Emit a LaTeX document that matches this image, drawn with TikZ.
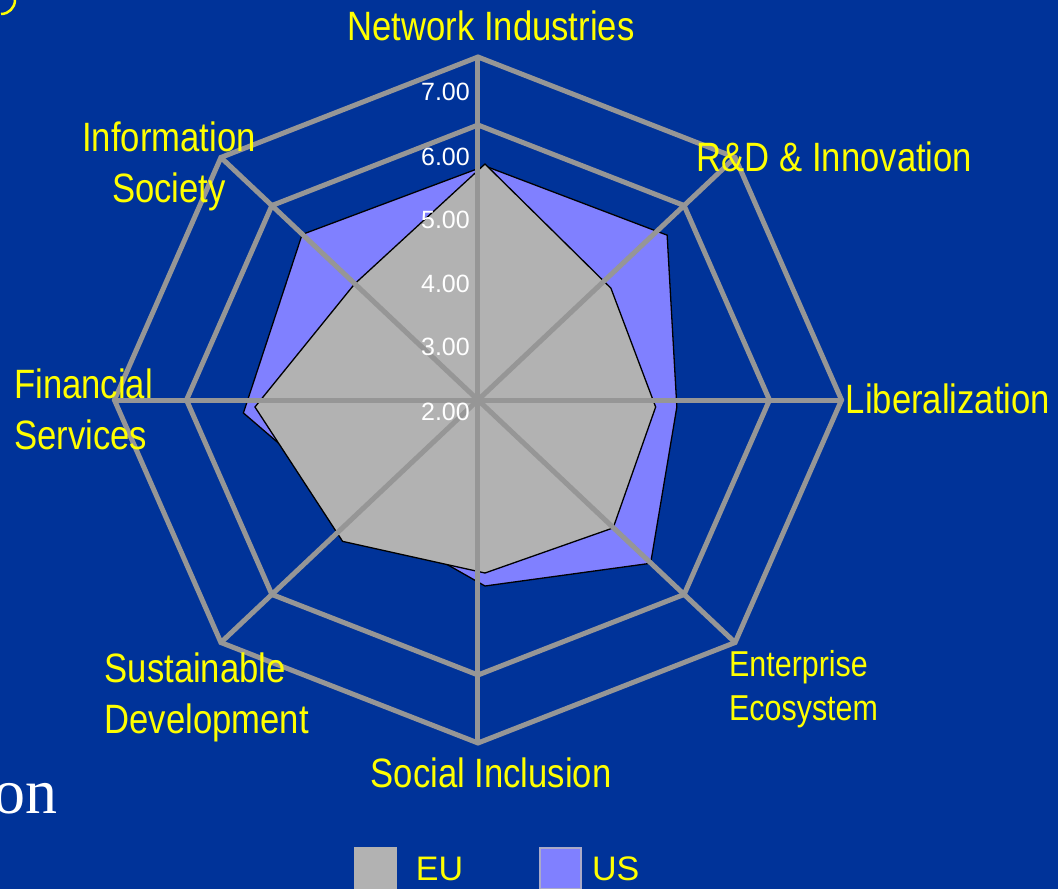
\documentclass[tikz,border=0pt]{standalone}
\usepackage{fontspec}
\usepackage{tikz}
\usetikzlibrary{positioning}
\newfontfamily\narrowfont{Liberation Sans}[FakeStretch=0.845]
\newfontfamily\plainfont{Liberation Sans}
\newfontfamily\slidefont{Liberation Serif}
\definecolor{rdBack}{RGB}{0,51,153}
\definecolor{rdGrid}{RGB}{150,150,150}
\definecolor{rdEU}{RGB}{178,178,178}
\definecolor{rdUS}{RGB}{128,128,255}
\definecolor{rdYellow}{RGB}{255,255,0}
\definecolor{rdEdge}{RGB}{170,170,200}
\tikzset{
    gridline/.style={rdGrid, line width=5pt},
    series/.style={draw=black, line width=1.3pt},
    axislabel/.style={font=\narrowfont\fontsize{41}{51}\selectfont, text=rdYellow, inner sep=0pt},
    smalllabel/.style={font=\narrowfont\fontsize{36}{44}\selectfont, text=rdYellow, inner sep=0pt},
    ticklabel/.style={font=\plainfont\fontsize{25}{25}\selectfont, text=white, inner sep=0pt, anchor=east},
    swatch/.style={minimum width=43pt, minimum height=43pt, inner sep=0pt},
    keytext/.style={font=\plainfont\fontsize{34}{34}\selectfont, text=rdYellow, inner sep=0pt}
}
\begin{document}
\begin{tikzpicture}[x=1pt, y=1pt]
  % slide background
  \fill[rdBack] (-478,-489) rectangle (580,400);
  \useasboundingbox (-478,-489) rectangle (580,400);

  % series, sitting slightly off the grid centre as on the slide
  \begin{scope}[shift={(7,-7)}, xscale=1.06]
    \filldraw[series, fill=rdUS] (90:241) -- (45:243) -- (0:181) -- (-45:221) -- (-90:179) -- (-135:158) -- (181.5:228) -- (135:244) -- cycle;
    \filldraw[series, fill=rdEU] (90:243) -- (45:168) -- (0:161) -- (-45:171) -- (-90:166) -- (-135:190) -- (180:217) -- (135:174) -- cycle;
  \end{scope}

  % grid: two rings and eight spokes
  \begin{scope}[xscale=1.06]
    \foreach \r in {275,343}
      \draw[gridline] (0:\r) -- (45:\r) -- (90:\r) -- (135:\r) -- (180:\r) -- (225:\r) -- (270:\r) -- (315:\r) -- cycle;
    \foreach \a in {0,45,...,315}
      \draw[gridline] (0,0) -- (\a:343);
  \end{scope}

  % value scale
  \foreach \v/\y [count=\i] in {2.00/-11.5, 3.00/53, 4.00/116.5, 5.00/180, 6.00/243.5, 7.00/308}
    \node[ticklabel] (tick\i) at (-8,\y) {\v};

  % axis labels (base = baseline of the last line)
  \node[axislabel, anchor=base] (netInd) at (13,359) {Network Industries};
  \node[axislabel, anchor=base] (rdInno) at (356.5,228) {R\&D \& Innovation};
  \node[axislabel, anchor=base] (libz) at (470,-13) {Liberalization};
  \node[smalllabel, anchor=base west, align=left] (entEco) at (251,-320) {Enterprise\\Ecosystem};
  \node[axislabel, anchor=base] (socInc) at (13,-387) {Social Inclusion};
  \node[axislabel, anchor=base west, align=left] (susDev) at (-373.5,-333) {Sustainable\\Development};
  \node[axislabel, anchor=base west, align=left] (finSer) at (-464,-49) {Financial\\Services};
  \node[axislabel, anchor=base, align=center] (infSoc) at (-309,197) {Information\\Society};

  % legend
  \node[swatch, fill=rdEU] (euKey) at (-102,-468.5) {};
  \node[keytext, right=18pt of euKey] (euText) {EU};
  \node[swatch, fill=rdUS, draw=rdEdge, line width=2pt, minimum width=41pt, minimum height=41pt] (usKey) at (82.5,-468.5) {};
  \node[keytext, right=10pt of usKey] (usText) {US};

  % pieces of the slide around the chart
  \node[anchor=base east, inner sep=0pt, text=white, font=\slidefont\fontsize{64}{64}\selectfont] (onFrag) at (-420,-413) {on};
  \draw[rdYellow, line width=2.5pt] (-477,386) arc[start angle=-90, end angle=0, radius=14pt];
\end{tikzpicture}
\end{document}
